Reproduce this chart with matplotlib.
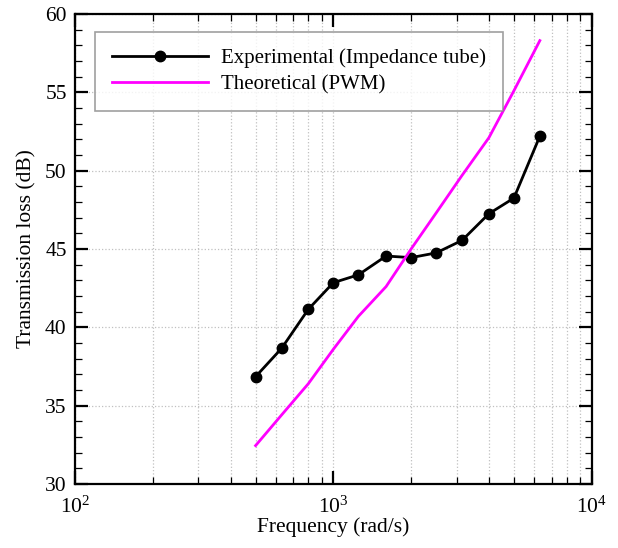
import matplotlib
matplotlib.use("Agg")
import matplotlib.pyplot as plt
from matplotlib.ticker import LogLocator, MultipleLocator, FixedLocator, FixedFormatter

plt.rcParams['font.family'] = ['Liberation Serif', 'DejaVu Serif']
plt.rcParams['mathtext.fontset'] = 'custom'
plt.rcParams['mathtext.rm'] = 'Liberation Serif'
plt.rcParams['mathtext.it'] = 'Liberation Serif:italic'

freq_exp = [500, 630, 800, 1000, 1250, 1600, 2000, 2500, 3150, 4000, 5000, 6300]
tl_exp = [36.85, 38.65, 41.15, 42.85, 43.35, 44.55, 44.45, 44.75, 45.55, 47.25, 48.25, 52.2]

freq_th = [500, 630, 800, 1000, 1250, 1600, 2000, 2500, 3150, 4000, 5000, 6300]
tl_th = [32.45, 34.4, 36.4, 38.6, 40.7, 42.6, 45.0, 47.3, 49.7, 52.1, 55.1, 58.3]

xtick_vals = [100, 1000, 10000]
xtick_labels = [r'$10^2$', r'$10^3$', r'$10^4$']

fig = plt.figure(figsize=(6.18, 5.48), dpi=100)
ax = fig.add_axes([0.1214, 0.1168, 0.836, 0.8577])

ax.plot(freq_exp, tl_exp, color='black', lw=2, marker='o', ms=7.5,
        label='Experimental (Impedance tube)')
ax.plot(freq_th, tl_th, color='#ff00ff', lw=2, label='Theoretical (PWM)')

ax.set_xscale('log')
ax.set_xlim(100, 10000)
ax.set_ylim(30, 60)
ax.xaxis.set_major_locator(FixedLocator(xtick_vals))
ax.xaxis.set_major_formatter(FixedFormatter(xtick_labels))
ax.xaxis.set_minor_locator(LogLocator(base=10, subs=range(2, 10)))
ax.xaxis.set_minor_formatter(plt.NullFormatter())
ax.yaxis.set_major_locator(MultipleLocator(5))
ax.yaxis.set_minor_locator(MultipleLocator(1))

ax.grid(True, which='major', axis='both', color='#c0c0c0', ls=':', lw=0.9)
ax.grid(True, which='minor', axis='x', color='#c0c0c0', ls=':', lw=0.9)
ax.set_axisbelow(True)

ax.tick_params(which='both', direction='in', top=True, right=True, labelsize=15.5)
ax.tick_params(which='major', length=9.5, width=1.6)
ax.tick_params(which='minor', length=5, width=0.9)
ax.tick_params(axis='x', which='major', pad=9)
ax.tick_params(axis='y', which='major', pad=6)
for s in ax.spines.values():
    s.set_linewidth(1.6)

ax.set_xlabel('Frequency (rad/s)', fontsize=15.5, labelpad=0)
ax.set_ylabel('Transmission loss (dB)', fontsize=15.5, labelpad=6)

leg = ax.legend(loc='upper left', bbox_to_anchor=(0.0387, 0.9617), fontsize=15,
                handlelength=4.6, handletextpad=0.65, frameon=True, fancybox=False,
                borderpad=0.8, labelspacing=0.3, borderaxespad=0)
leg.get_frame().set_edgecolor('#888888')
leg.get_frame().set_linewidth(1.2)

fig.savefig('out.png', dpi=100)
